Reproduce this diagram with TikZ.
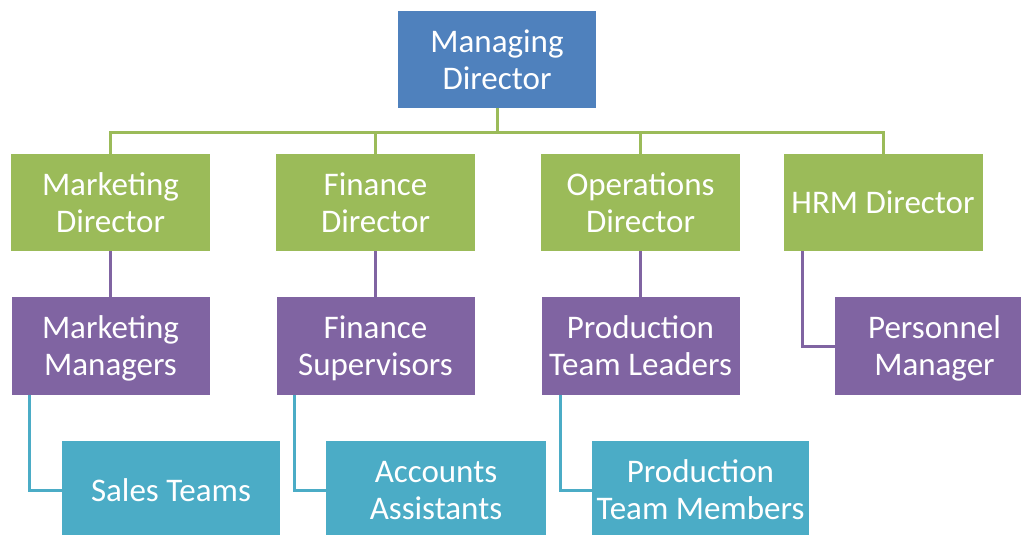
\documentclass[tikz,border=0pt]{standalone}
\usepackage{fontspec}
\setmainfont{Carlito}
\definecolor{mdblue}{HTML}{4F81BD}
\definecolor{dirgreen}{HTML}{9BBB59}
\definecolor{mgrpurple}{HTML}{8064A2}
\definecolor{teamteal}{HTML}{4BACC6}
\newcommand{\lstrut}{\rule[-7.5pt]{0pt}{37pt}}
\begin{document}
\begin{tikzpicture}[x=1pt,y=-1pt,
  box/.style={rectangle, inner sep=0pt, text=white, align=center,
    font=\fontsize{33}{37}\selectfont, minimum height=97pt},
  mdbox/.style={box, fill=mdblue, minimum width=198pt},
  dirbox/.style={box, fill=dirgreen, minimum width=199pt},
  mgrbox/.style={box, fill=mgrpurple, minimum width=198pt, minimum height=98pt},
  teambox/.style={box, fill=teamteal, minimum width=218pt, minimum height=98pt},
  gline/.style={draw=dirgreen, line width=3pt},
  pline/.style={draw=mgrpurple, line width=3pt},
  tline/.style={draw=teamteal, line width=3pt}]
\useasboundingbox (0,0) rectangle (1021,535);
\clip (0,0) rectangle (1021,535);
% boxes
\node[mdbox] (md) at (497,59.5) {\lstrut Managing\\\lstrut Director};
\node[dirbox] (mkd) at (110.5,202.5) {\lstrut Marketing\\\lstrut Director};
\node[dirbox] (fd) at (375.5,202.5) {\lstrut Finance\\\lstrut Director};
\node[dirbox] (od) at (640.5,202.5) {\lstrut Operations\\\lstrut Director};
\node[dirbox] (hrm) at (883,202.5) {\lstrut HRM Director};
\node[mgrbox] (mm) at (110.5,346) {\lstrut Marketing\\\lstrut Managers};
\node[mgrbox] (fs) at (375.5,346) {\lstrut Finance\\\lstrut Supervisors};
\node[mgrbox] (ptl) at (640.5,346) {\lstrut Production\\\lstrut Team Leaders};
\node[mgrbox, minimum width=199pt] (pm) at (934.5,346) {\lstrut Personnel\\\lstrut Manager};
\node[teambox] (st) at (171,490) {\lstrut Sales Teams};
\node[teambox, minimum width=220pt] (aa) at (436,490) {\lstrut Accounts\\\lstrut Assistants};
\node[teambox, minimum width=217pt] (ptm) at (700.5,490) {\lstrut Production\\\lstrut Team Members};
% green bus
\draw[gline] (md.south) -- ++(0,24) coordinate (bus);
\draw[gline] (mkd.north) |- (bus) -| (hrm.north);
\draw[gline] (fd.north) -- (fd.north |- bus);
\draw[gline] (od.north) -- (od.north |- bus);
% purple
\draw[pline] (mkd.south) -- (mm.north);
\draw[pline] (fd.south) -- (fs.north);
\draw[pline] (od.south) -- (ptl.north);
\draw[pline] ([xshift=19]hrm.south west) |- (pm.west);
% teal
\draw[tline] ([xshift=18]mm.south west) |- (st.west);
\draw[tline] ([xshift=18]fs.south west) |- (aa.west);
\draw[tline] ([xshift=19]ptl.south west) |- (ptm.west);
\end{tikzpicture}
\end{document}
